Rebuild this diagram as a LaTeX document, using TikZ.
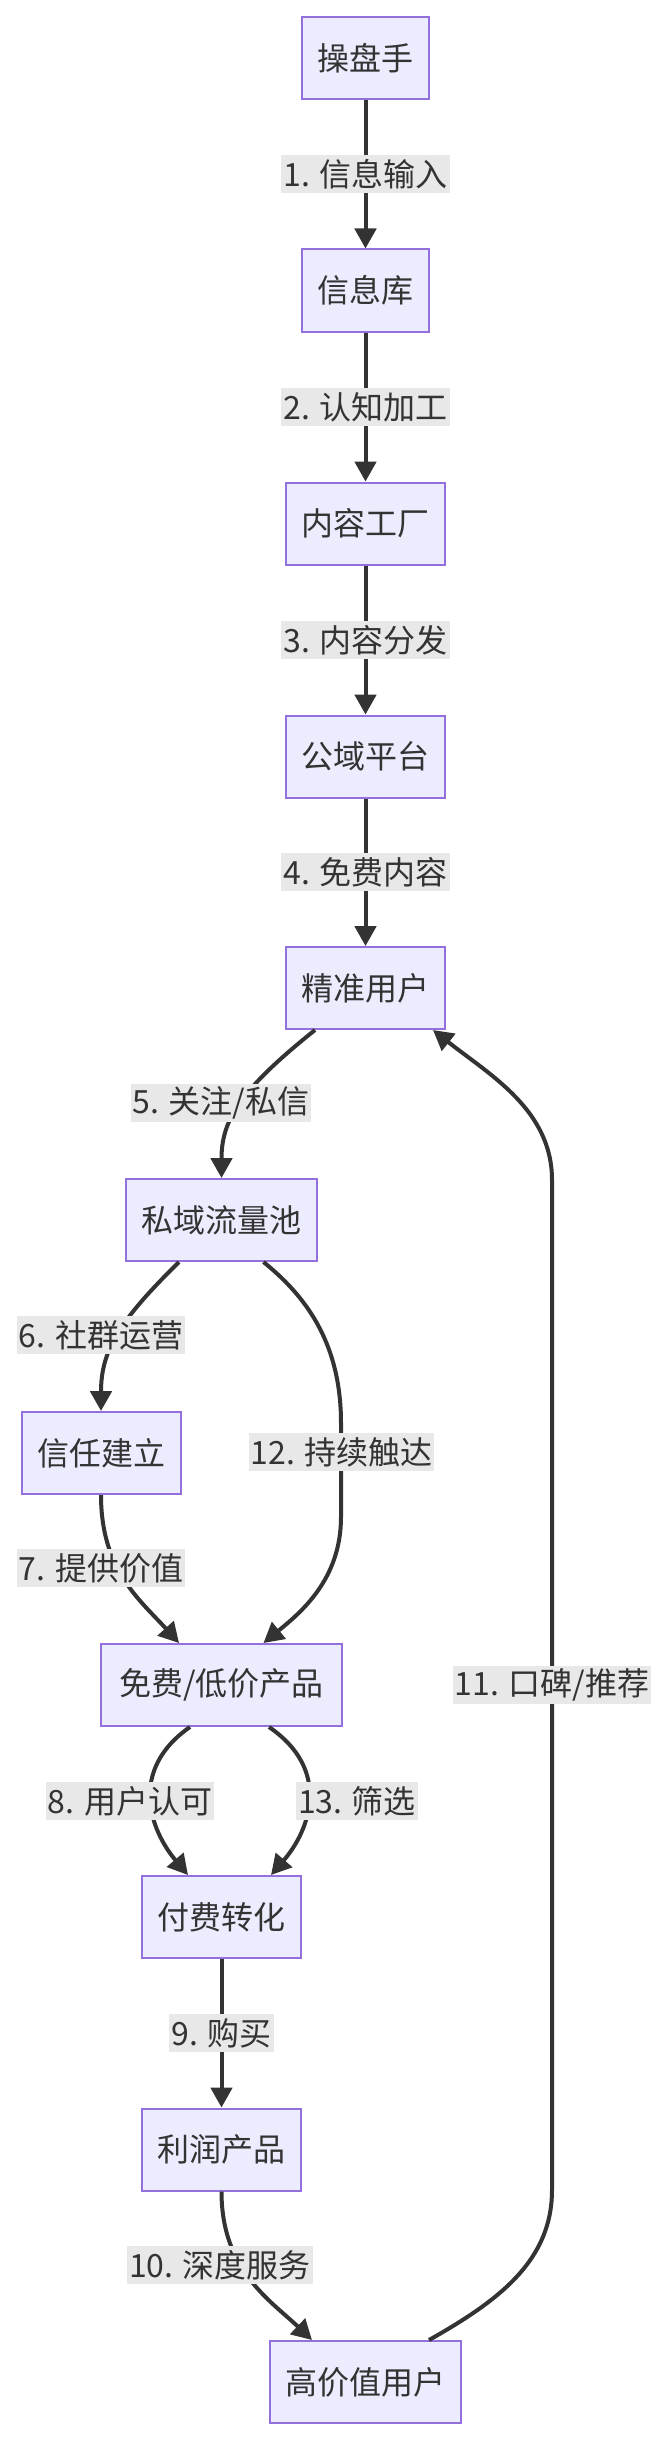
\documentclass[tikz,border=0pt]{standalone}
\usepackage{fontspec}
\setmainfont{Noto Sans CJK SC}
\usetikzlibrary{arrows.meta,calc}
\definecolor{nodefill}{HTML}{ECECFF}
\definecolor{nodeborder}{HTML}{9370DB}
\definecolor{edgecol}{HTML}{333333}
\definecolor{lblfill}{HTML}{E8E8E8}
\tikzset{
 box/.style={draw=nodeborder, fill=nodefill, line width=1.5pt, text=edgecol, inner sep=0pt, minimum height=61.5pt, font=\fontsize{24pt}{28pt}\selectfont},
 wthree/.style={minimum width=95.25pt},
 wfour/.style={minimum width=119.25pt},
 wfive/.style={minimum width=143.25pt},
 wseven/.style={minimum width=180.75pt},
 lbl/.style={fill=lblfill, text=edgecol, inner xsep=1.5pt, inner ysep=0pt, minimum height=28.5pt, font=\fontsize{24pt}{28pt}\selectfont},
 flow/.style={draw=edgecol, line width=3pt, -{Triangle[length=15pt,width=16pt]}},
}
\begin{document}
\begin{tikzpicture}[x=0.75pt,y=-0.75pt]
\useasboundingbox (0,0) rectangle (668,2440);
% nodes
\node[box,wthree] (cps) at (365.5,58) {操盘手};
\node[box,wthree] (xxk) at (365.5,290.5) {信息库};
\node[box,wfour] (nrgc) at (365.5,523.5) {内容工厂};
\node[box,wfour] (gypt) at (365.5,756.5) {公域平台};
\node[box,wfour] (jzyh) at (365.5,988) {精准用户};
\node[box,wfive] (sy) at (221.5,1220) {私域流量池};
\node[box,wfour] (xr) at (101,1453) {信任建立};
\node[box,wseven] (mf) at (221.5,1685) {免费/低价产品};
\node[box,wfour] (ff) at (221.5,1917) {付费转化};
\node[box,wfour] (lr) at (221.5,2149.5) {利润产品};
\node[box,wfive] (gjz) at (365.5,2382) {高价值用户};
% edges
\draw[flow] (cps.south) -- (xxk.north);
\draw[flow] (xxk.south) -- (nrgc.north);
\draw[flow] (nrgc.south) -- (gypt.north);
\draw[flow] (gypt.south) -- (jzyh.north);
\draw[flow] ($(jzyh.south)+(-50.5,0)$) .. controls (240,1090) and (221.5,1120) .. (sy.north);
\draw[flow] ($(sy.south)+(-42.5,0)$) .. controls (120,1320) and (101,1350) .. (xr.north);
\draw[flow] ($(sy.south)+(42,0)$) .. controls (303,1294) and (341,1340) .. (341,1423) -- (341,1517) .. controls (341,1580) and (300,1613) .. ($(mf.north)+(42,0)$);
\draw[flow] (xr.south) .. controls (101,1570) and (140,1600) .. ($(mf.north)+(-42.5,0)$);
\draw[flow] ($(mf.south)+(-31.5,0)$) .. controls (128,1770) and (150,1830) .. ($(ff.north)+(-33.5,0)$);
\draw[flow] ($(mf.south)+(47.5,0)$) .. controls (332,1770) and (310,1830) .. ($(ff.north)+(49.5,0)$);
\draw[flow] (ff.south) -- (lr.north);
\draw[flow] (lr.south) .. controls (221.5,2270) and (270,2300) .. ($(gjz.north)+(-53.5,0)$);
\draw[flow] ($(gjz.north)+(63.5,0)$) .. controls (500,2300) and (552,2260) .. (552,2190) -- (552,1180) .. controls (552,1110) and (490,1075) .. ($(jzyh.south)+(67.5,0)$);
% labels
\node[lbl] (l1) at (365.5,174) {1. 信息输入};
\node[lbl] (l2) at (365.5,407) {2. 认知加工};
\node[lbl] (l3) at (365.5,640) {3. 内容分发};
\node[lbl] (l4) at (365.5,872) {4. 免费内容};
\node[lbl] (l5) at (221,1103) {5. 关注/私信};
\node[lbl] (l6) at (101,1335) {6. 社群运营};
\node[lbl] (l12) at (341.5,1452) {12. 持续触达};
\node[lbl] (l7) at (101,1568) {7. 提供价值};
\node[lbl] (l11) at (552,1685) {11. 口碑/推荐};
\node[lbl] (l8) at (130,1801) {8. 用户认可};
\node[lbl] (l13) at (357,1801) {13. 筛选};
\node[lbl] (l9) at (221.5,2033) {9. 购买};
\node[lbl] (l10) at (220,2265) {10. 深度服务};
\end{tikzpicture}
\end{document}
